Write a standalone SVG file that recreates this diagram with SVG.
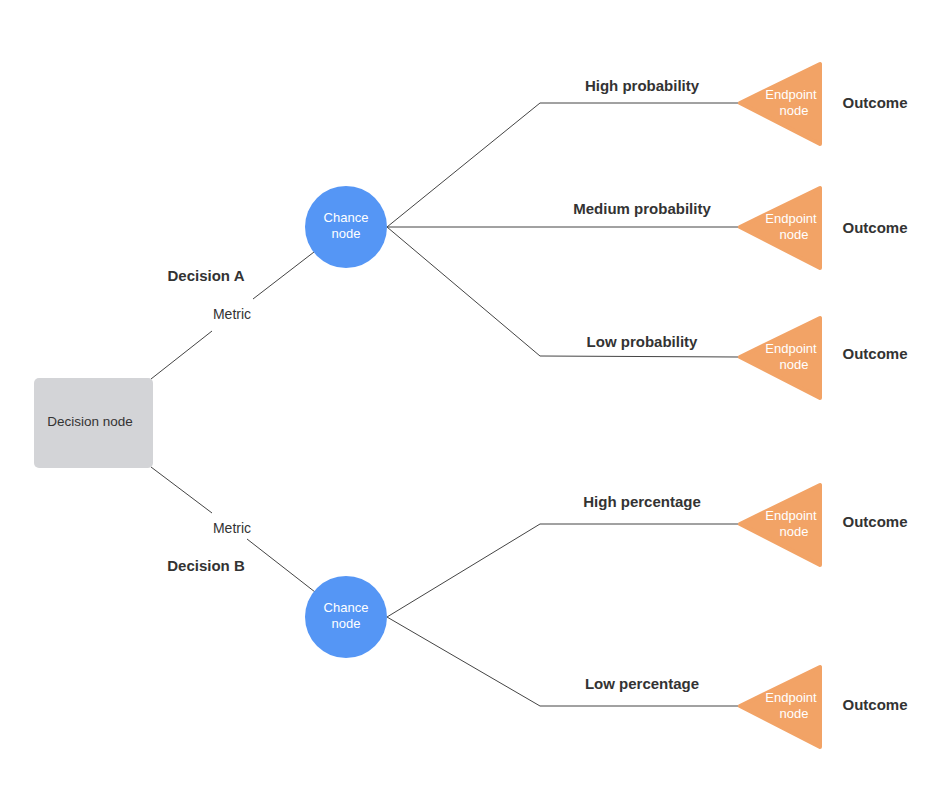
<svg xmlns="http://www.w3.org/2000/svg" width="946" height="788" viewBox="0 0 946 788">
<style>
.ln{fill:none;stroke:#444;stroke-width:1}
.lbl{font-family:"Liberation Sans",Arial,sans-serif;font-size:15px;font-weight:bold;fill:#333;text-anchor:middle}
.met{font-family:"Liberation Sans",Arial,sans-serif;font-size:14px;fill:#333;text-anchor:middle}
.nt{font-family:"Liberation Sans",Arial,sans-serif;font-size:13px;text-anchor:middle}
.ep{fill:#f2a366;stroke:#f2a366;stroke-width:4;stroke-linejoin:round}
.cn{fill:#5596f5}
</style>
<rect width="946" height="788" fill="#ffffff"/>
<g id="connectors">
<polyline class="ln" points="151,379 212,331"/>
<polyline class="ln" points="253,299 314,252"/>
<polyline class="ln" points="151,467 212,513"/>
<polyline class="ln" points="247,539 315,592"/>
<polyline class="ln" points="387,227 540,103 738,103"/>
<polyline class="ln" points="387,227 738,227"/>
<polyline class="ln" points="387,227 540,356 738,357"/>
<polyline class="ln" points="387,617 540,524 738,524"/>
<polyline class="ln" points="387,617 540,706 738,706"/>
<text class="met" x="232" y="319">Metric</text>
<text class="met" x="232" y="533">Metric</text>
<text class="lbl" x="206" y="281">Decision A</text>
<text class="lbl" x="206" y="571">Decision B</text>
<text class="lbl" x="642" y="91">High probability</text>
<text class="lbl" x="642" y="214">Medium probability</text>
<text class="lbl" x="642" y="347">Low probability</text>
<text class="lbl" x="642" y="507">High percentage</text>
<text class="lbl" x="642" y="689">Low percentage</text>
</g>
<g id="decision">
<rect x="34" y="378" width="119" height="90" rx="5" fill="#d3d4d7"/>
<text class="nt" x="90" y="426" fill="#333" style="font-size:13.5px">Decision node</text>
</g>
<g id="chance1">
<circle class="cn" cx="346" cy="227" r="41"/>
<text class="nt" x="346" y="222" fill="#fff">Chance</text>
<text class="nt" x="346" y="238" fill="#fff">node</text>
</g>
<g id="chance2">
<circle class="cn" cx="346" cy="617" r="41"/>
<text class="nt" x="346" y="612" fill="#fff">Chance</text>
<text class="nt" x="346" y="628" fill="#fff">node</text>
</g>
<g id="end1">
<polygon class="ep" points="740,103 820,64 820,144"/>
<text class="nt" x="791" y="99" fill="#fff">Endpoint</text>
<text class="nt" x="794" y="115" fill="#fff">node</text>
<text class="lbl" x="875" y="108">Outcome</text>
</g>
<g id="end2">
<polygon class="ep" points="740,227 820,188 820,268"/>
<text class="nt" x="791" y="223" fill="#fff">Endpoint</text>
<text class="nt" x="794" y="239" fill="#fff">node</text>
<text class="lbl" x="875" y="233">Outcome</text>
</g>
<g id="end3">
<polygon class="ep" points="740,357 820,318 820,398"/>
<text class="nt" x="791" y="353" fill="#fff">Endpoint</text>
<text class="nt" x="794" y="369" fill="#fff">node</text>
<text class="lbl" x="875" y="359">Outcome</text>
</g>
<g id="end4">
<polygon class="ep" points="740,524 820,485 820,565"/>
<text class="nt" x="791" y="520" fill="#fff">Endpoint</text>
<text class="nt" x="794" y="536" fill="#fff">node</text>
<text class="lbl" x="875" y="527">Outcome</text>
</g>
<g id="end5">
<polygon class="ep" points="740,706 820,667 820,747"/>
<text class="nt" x="791" y="702" fill="#fff">Endpoint</text>
<text class="nt" x="794" y="718" fill="#fff">node</text>
<text class="lbl" x="875" y="710">Outcome</text>
</g>
</svg>
